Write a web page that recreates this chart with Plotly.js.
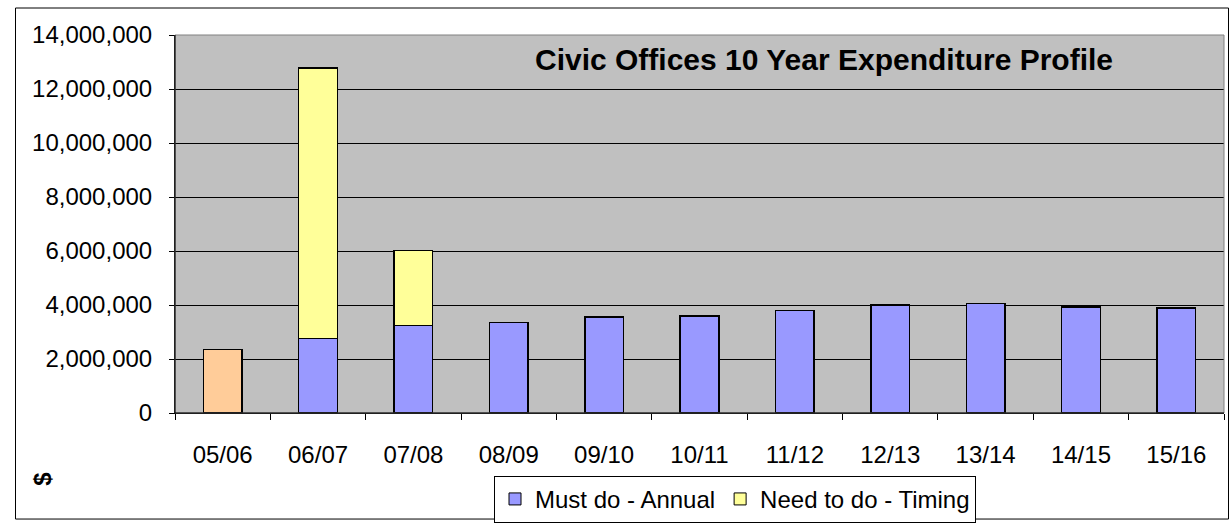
<!DOCTYPE html>
<html><head><meta charset="utf-8">
<script src="https://cdn.plot.ly/plotly-3.0.1.min.js"></script>
<style>html,body{margin:0;padding:0;background:#fff;}#chart{width:1230px;height:529px;}</style>
</head><body><div id="chart"></div>
<script>
const categories = ["05/06","06/07","07/08","08/09","09/10","10/11","11/12","12/13","13/14","14/15","15/16"];
const mustDoAnnual = [2360000, 2760000, 3240000, 3360000, 3560000, 3600000, 3790000, 4000000, 4050000, 3930000, 3880000];
const needToDoTiming = [0, 10010000, 2770000, 0, 0, 0, 0, 0, 0, 0, 0];
const mustDoColors = ["#FFCC99","#9999FF","#9999FF","#9999FF","#9999FF","#9999FF","#9999FF","#9999FF","#9999FF","#9999FF","#9999FF"];
const seriesNames = ["Must do - Annual", "Need to do - Timing"];
const yTickVals = [0,2000000,4000000,6000000,8000000,10000000,12000000,14000000];
const yTickText = ["0","2,000,000","4,000,000","6,000,000","8,000,000","10,000,000","12,000,000","14,000,000"];
const titleText = "Civic Offices 10 Year Expenditure Profile";
const yTitle = "$";

const L = 175, R = 1224, T = 35, B = 420, W = 1230, H = 529;
const pw = R - L, ph = B - T;
const px = x => (x - L) / pw;
const py = y => (B - y) / ph;
const font = "Arial, 'Liberation Sans', Helvetica, sans-serif";
const barLine = {color:"#000", width:1.5};

const traces = [
  {type:"bar", name:seriesNames[0], x:categories, y:mustDoAnnual, showlegend:false,
   legendgroup:"a", marker:{color:mustDoColors, line:barLine}},
  {type:"bar", name:seriesNames[1], x:categories, y:needToDoTiming, showlegend:false,
   legendgroup:"b", marker:{color:"#FFFF99", line:barLine}},
  // legend entries (series colours)
  {type:"bar", name:seriesNames[0], x:[categories[0]], y:[null], legendgroup:"a",
   marker:{color:"#9999FF", line:{color:"#000", width:1}}},
  {type:"bar", name:seriesNames[1], x:[categories[0]], y:[null], legendgroup:"b",
   marker:{color:"#FFFF99", line:{color:"#000", width:1}}}
];

const layout = {
  width:W, height:H,
  margin:{l:L, r:W-R, t:T, b:H-B, pad:0},
  paper_bgcolor:"#fff", plot_bgcolor:"#C0C0C0",
  barmode:"stack", bargap:0.595,
  font:{family:font, size:24, color:"#000"},
  showlegend:true,
  legend:{orientation:"h", x:px(735), xanchor:"center", y:py(484), yanchor:"top",
          bgcolor:"#fff", bordercolor:"#000", borderwidth:1,
          font:{family:font, size:24, color:"#000"}, itemwidth:30, tracegroupgap:0,
          traceorder:"normal"},
  xaxis:{type:"category", showgrid:false, showline:true, linecolor:"#000", linewidth:1,
         ticks:"outside", tickson:"boundaries", ticklen:6, tickcolor:"#000",
         tickfont:{family:font, size:24}, ticklabelstandoff:20, fixedrange:true},
  yaxis:{range:[0,14000000], tickvals:yTickVals, ticktext:yTickText,
         showgrid:true, gridcolor:"#000", gridwidth:1, zeroline:false,
         showline:true, linecolor:"#000", linewidth:1,
         ticks:"outside", ticklen:5, tickcolor:"#000",
         tickfont:{family:font, size:24}, ticklabelstandoff:12, fixedrange:true},
  shapes:[
    {type:"rect", xref:"paper", yref:"paper", x0:0, x1:1, y0:0, y1:1,
     line:{color:"#808080", width:1}, layer:"above"},
    {type:"line", xref:"paper", yref:"paper", x0:0, x1:1, y0:0, y1:0,
     line:{color:"#000", width:1}, layer:"above"},
    {type:"line", xref:"paper", yref:"paper", x0:0, x1:0, y0:0, y1:1,
     line:{color:"#000", width:1}, layer:"above"},
    {type:"rect", xref:"paper", yref:"paper", x0:px(15.5), x1:px(1228.5), y0:py(7.5), y1:py(528),
     line:{color:"#000", width:1}, layer:"below"}
  ],
  annotations:[
    {text:"<b>"+titleText+"</b>", xref:"paper", yref:"paper", x:px(824), y:py(60),
     xanchor:"center", yanchor:"middle", showarrow:false, font:{family:font, size:30, color:"#000"}},
    {text:"<b>"+yTitle+"</b>", xref:"paper", yref:"paper", x:px(43), y:py(487),
     xanchor:"center", yanchor:"middle", showarrow:false, textangle:-90,
     font:{family:font, size:24, color:"#000"}}
  ]
};

Plotly.newPlot("chart", traces, layout, {displayModeBar:false, staticPlot:true});
</script>
</body></html>
